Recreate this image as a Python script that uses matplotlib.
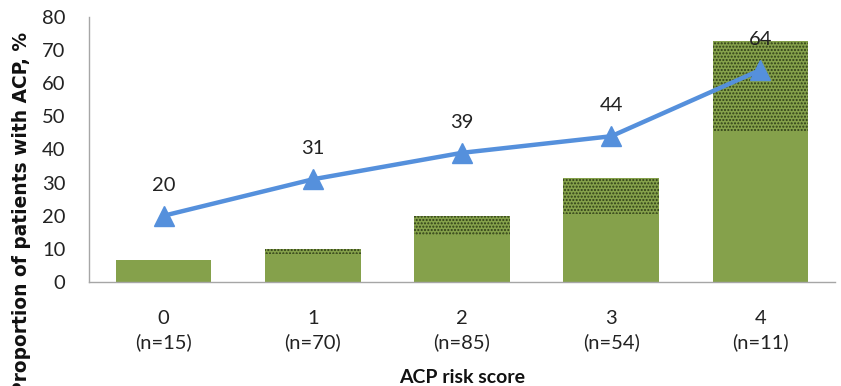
import matplotlib
matplotlib.use("Agg")
import matplotlib.pyplot as plt
import numpy as np

plt.rcParams['hatch.linewidth'] = 1.0

scores = ["0", "1", "2", "3", "4"]
n_vals = [15, 70, 85, 54, 11]
solid_vals = [6.7, 8.6, 14.1, 20.4, 45.5]
total_vals = [6.7, 10.0, 20.0, 31.5, 72.7]
line_vals = [20, 31, 39, 44, 64]
yticks = [0, 10, 20, 30, 40, 50, 60, 70, 80]

green = "#85A14B"
blue = "#5590DC"
dot_color = "#2E3D17"
txt = "#222222"

fig = plt.figure(figsize=(8.41, 3.86), dpi=100)
ax = fig.add_axes([0.1058, 0.2694, 0.8871, 0.6866])

x = np.arange(len(scores))
hatched = [t - s for t, s in zip(total_vals, solid_vals)]
ax.bar(x, solid_vals, width=0.64, color=green, linewidth=0, zorder=2)
ax.bar(x, hatched, bottom=solid_vals, width=0.64, color=green,
       edgecolor=dot_color, hatch='.....', linewidth=0, zorder=2)

ax.plot(x, line_vals, color=blue, linewidth=3.2, marker='^', markersize=14,
        markeredgecolor=blue, markerfacecolor=blue, zorder=3)
for xi, v in zip(x, line_vals):
    ax.annotate(str(v), (xi, v), xytext=(0, 22), textcoords='offset points',
                ha='center', va='center', fontsize=14.5, family='Lato', color=txt, zorder=4)

ax.set_xlim(-0.5, 4.5)
ax.set_ylim(0, 80)
ax.set_yticks(yticks)
ax.set_yticklabels([str(t) for t in yticks], fontsize=14.5, family='Lato', color=txt)
ax.set_xticks(x)
ax.set_xticklabels(scores, fontsize=14.5, family='Lato', color=txt)
for lab in ax.get_xticklabels():
    lab.set_va('center')
ax.tick_params(axis='both', length=0)
ax.tick_params(axis='x', pad=26.5)
ax.tick_params(axis='y', pad=17)

for xi, n in zip(x, n_vals):
    ax.annotate(f"(n={n})", (xi, 0), xycoords=('data', 'axes fraction'),
                xytext=(0, -43.2), textcoords='offset points',
                ha='center', va='center', fontsize=14.5, family='Lato', color=txt)

for s in ['top', 'right']:
    ax.spines[s].set_visible(False)
for s in ['left', 'bottom']:
    ax.spines[s].set_color('#A6A6A6')
    ax.spines[s].set_linewidth(1.0)

ax.set_xlabel("ACP risk score", fontsize=14, family='Lato', fontweight='bold', color='#111111')
ax.xaxis.set_label_coords(0.5, -0.36)
ax.xaxis.label.set_va('center')
ax.set_ylabel("Proportion of patients with ACP, %", fontsize=13.4, family='DejaVu Sans',
              fontweight='bold', color='#111111')
ax.yaxis.set_label_coords(-0.09, 0.26)
ax.yaxis.label.set_va('center')

fig.savefig("out.png", dpi=100)
